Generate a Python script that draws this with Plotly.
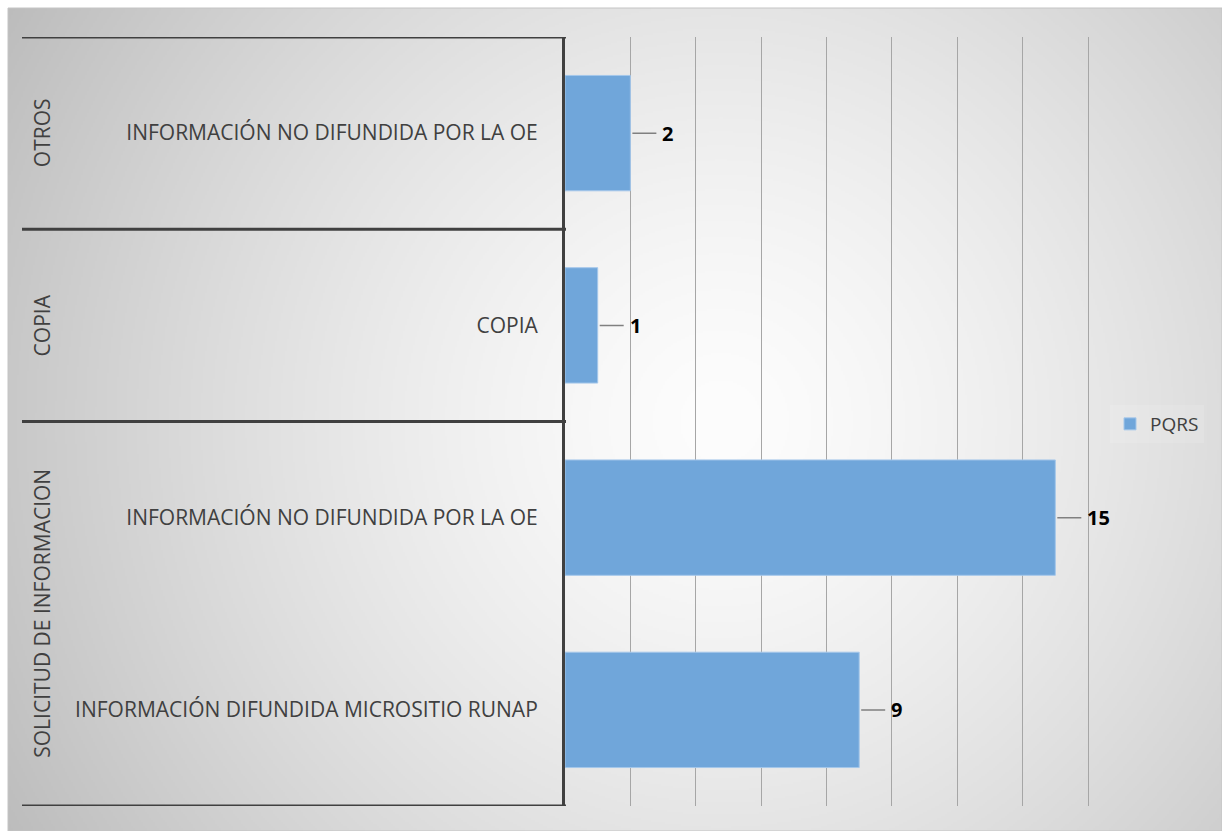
import base64
import struct
import zlib

import numpy as np
import plotly.graph_objects as go

# ---- data (bottom to top) ----
subcategories = [
    "INFORMACIÓN DIFUNDIDA MICROSITIO RUNAP",
    "INFORMACIÓN NO DIFUNDIDA POR LA OE",
    "COPIA",
    "INFORMACIÓN NO DIFUNDIDA POR LA OE",
]
values = [9, 15, 1, 2]
groups = ["SOLICITUD DE INFORMACION", "COPIA", "OTROS"]
group_spans = [(0, 1), (2, 2), (3, 3)]  # first / last bar index of each group
series_name = "PQRS"

W, H = 1222, 831


def px_x(p):
    return p / W


def px_y(p):
    return 1 - p / H


def gradient_png(w, h, cx, cy, scale):
    """Grey radial gradient, white in the centre, written as a PNG data URI."""
    yy, xx = np.mgrid[0:h, 0:w].astype(float)
    r = np.sqrt((xx - cx) ** 2 + (yy - cy) ** 2) * scale
    val = 253 - 62 * np.clip(r / 800.0, 0, 1.2) ** 1.4
    img = np.clip(val, 0, 255).astype(np.uint8)
    raw = b"".join(b"\x00" + row.tobytes() for row in img)

    def chunk(tag, data):
        c = struct.pack(">I", len(data)) + tag + data
        return c + struct.pack(">I", zlib.crc32(tag + data) & 0xFFFFFFFF)

    png = b"\x89PNG\r\n\x1a\n"
    png += chunk(b"IHDR", struct.pack(">IIBBBBB", w, h, 8, 0, 0, 0, 0))
    png += chunk(b"IDAT", zlib.compress(raw, 9))
    png += chunk(b"IEND", b"")
    return "data:image/png;base64," + base64.b64encode(png).decode()


# background panel: 8px inset from top/left
bw, bh = (W - 8) // 2, (H - 8) // 2
bg = gradient_png(bw, bh, (720 - 8) / 2, (420 - 8) / 2, 2.0)

ypos = list(range(len(values)))
text_color = "#404040"
font_family = "Open Sans, Noto Sans, sans-serif"

# x scale: 0..16 spans 565..1088 px; a small pad keeps the last gridline visible
x_max, x_pad = 16, 0.12
px_per_unit = (1088 - 565) / x_max

fig = go.Figure()
fig.add_trace(
    go.Bar(
        x=values,
        y=ypos,
        orientation="h",
        width=0.6,
        name=series_name,
        marker=dict(color="#70a6da", line=dict(color="#a4c7ea", width=1)),
        showlegend=True,
    )
)

# data labels with leader lines
for v, yv in zip(values, ypos):
    fig.add_annotation(
        x=v, y=yv, xref="x", yref="y",
        text=f"<b>{v}</b>",
        showarrow=True, arrowhead=0, arrowwidth=1.5, arrowcolor="#808080",
        ax=26, ay=0, xanchor="left", standoff=2, borderpad=5,
        font=dict(size=20, color="#000000", family=font_family),
    )

# group labels (rotated) and separators
for name, (a, b) in zip(groups, group_spans):
    fig.add_annotation(
        x=px_x(42), y=(a + b) / 2, xref="paper", yref="y",
        text=name, textangle=-90, showarrow=False,
        xanchor="center", yanchor="middle",
        font=dict(size=21, color=text_color, family=font_family),
    )

bounds = sorted({a - 0.5 for a, _ in group_spans} | {b + 0.5 for _, b in group_spans})
shapes = []
for yb in bounds:
    shapes.append(dict(
        type="line", xref="paper", yref="y",
        x0=px_x(22), x1=px_x(566), y0=yb, y1=yb,
        line=dict(color=text_color, width=3),
    ))
# thin frame around the chart panel
shapes.append(dict(
    type="rect", xref="paper", yref="paper",
    x0=px_x(8), x1=1.0, y0=0.0, y1=px_y(8),
    line=dict(color="#c4c4c4", width=1), layer="below",
))

fig.update_layout(
    width=W, height=H,
    margin=dict(l=0, r=0, t=0, b=0),
    paper_bgcolor="#ffffff",
    plot_bgcolor="rgba(0,0,0,0)",
    font=dict(family=font_family, color=text_color),
    images=[dict(
        source=bg, xref="paper", yref="paper",
        x=px_x(8), y=px_y(8), sizex=1 - px_x(8), sizey=px_y(8),
        xanchor="left", yanchor="top", sizing="stretch", layer="below",
    )],
    shapes=shapes,
    bargap=0.4,
    xaxis=dict(
        domain=[px_x(565), px_x(1088 + x_pad * px_per_unit)],
        range=[0, x_max + x_pad], dtick=2, tick0=0,
        showgrid=True, gridcolor="#a6a6a6", gridwidth=1,
        showticklabels=False, zeroline=False, showline=False, ticks="",
    ),
    yaxis=dict(
        domain=[px_y(806), px_y(37)],
        range=[-0.5, 3.5],
        tickvals=ypos, ticktext=subcategories,
        tickfont=dict(size=21, color=text_color, family=font_family),
        ticklabelstandoff=20,
        showline=True, linecolor=text_color, linewidth=3,
        showgrid=False, zeroline=False, ticks="",
    ),
    legend=dict(
        x=px_x(1110), y=px_y(424), xanchor="left", yanchor="middle",
        bgcolor="rgba(255,255,255,0.12)",
        font=dict(size=19, color=text_color, family=font_family),
        itemwidth=30,
    ),
)

fig.write_html("out.html")
